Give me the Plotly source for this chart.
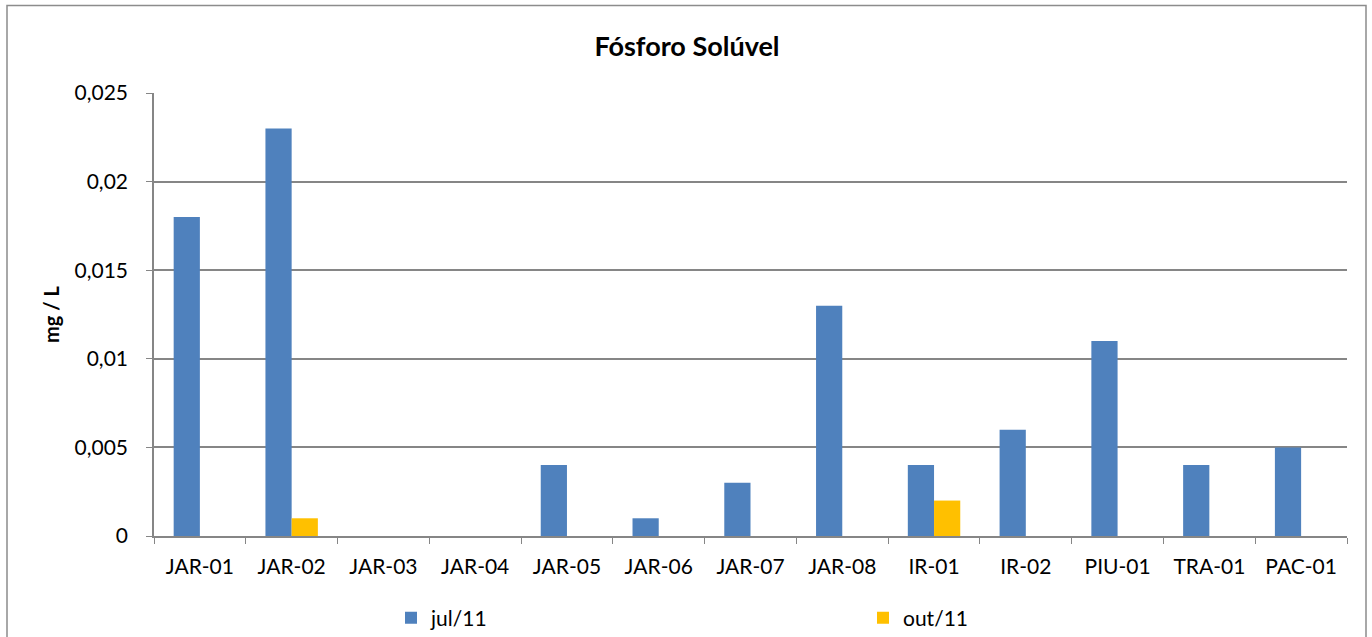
import plotly.graph_objects as go

# Sampling stations and soluble phosphorus readings (mg/L)
stations = ["JAR-01", "JAR-02", "JAR-03", "JAR-04", "JAR-05", "JAR-06", "JAR-07",
            "JAR-08", "IR-01", "IR-02", "PIU-01", "TRA-01", "PAC-01"]
jul_11 = [0.018, 0.023, 0, 0, 0.004, 0.001, 0.003, 0.013, 0.004, 0.006, 0.011, 0.004, 0.005]
out_11 = [0, 0.001, 0, 0, 0, 0, 0, 0, 0.002, 0, 0, 0, 0]
y_ticks = [0, 0.005, 0.01, 0.015, 0.02, 0.025]
y_tick_labels = ["0", "0,005", "0,01", "0,015", "0,02", "0,025"]

FONT = "Lato, Carlito, Calibri, sans-serif"
GRID = "#868686"

fig = go.Figure()
fig.add_trace(go.Bar(x=stations, y=jul_11, name="jul/11", marker=dict(color="#4F81BD", line=dict(width=0))))
fig.add_trace(go.Bar(x=stations, y=out_11, name="out/11", marker=dict(color="#FFC000", line=dict(width=0))))

L, R, T, B = 154, 25, 93, 101
W, H = 1372, 637
pw, ph = W - L - R, H - T - B

def px_x(p):
    return (p - L) / pw

def px_y(p):
    return (H - B - p) / ph

fig.update_layout(
    width=W, height=H,
    margin=dict(l=L, r=R, t=T, b=B, autoexpand=False),
    paper_bgcolor="white", plot_bgcolor="white",
    barmode="group", bargap=0.4286, bargroupgap=0,
    separators=",.",
    font=dict(family=FONT, size=21, color="black"),
    title=dict(text="<b>Fósforo Solúvel</b>", xref="container", x=687 / W, xanchor="center",
               yref="container", y=1 - 47 / H, yanchor="middle", font=dict(size=27, family=FONT)),
    showlegend=True,
    legend=dict(orientation="h", xref="container", x=391 / W, xanchor="left",
                yref="container", y=1 - 618 / H, yanchor="middle",
                entrywidth=427, entrywidthmode="pixels", font=dict(size=21, family=FONT),
                bgcolor="rgba(0,0,0,0)", traceorder="normal"),
    xaxis=dict(showline=True, linecolor=GRID, linewidth=1.6, ticks="outside", tickson="boundaries",
               ticklen=6, tickcolor=GRID, showgrid=False, tickfont=dict(size=21),
               ticklabelstandoff=11),
    yaxis=dict(range=[0, 0.025], tickvals=y_ticks, ticktext=y_tick_labels, showline=True,
               linecolor=GRID, linewidth=1.6, ticks="outside", ticklen=6, tickcolor=GRID,
               showgrid=True, gridcolor=GRID, gridwidth=1.6, zeroline=False,
               tickfont=dict(size=21), ticklabelstandoff=14,
               title=dict(text="<b>mg / L</b>", font=dict(size=20), standoff=10)),
    shapes=[dict(type="rect", xref="paper", yref="paper",
                 x0=px_x(7), x1=px_x(1366), y0=px_y(700), y1=px_y(5.5),
                 line=dict(color="#8C8C8C", width=1.5), layer="below")],
)

fig.write_html("out.html")
